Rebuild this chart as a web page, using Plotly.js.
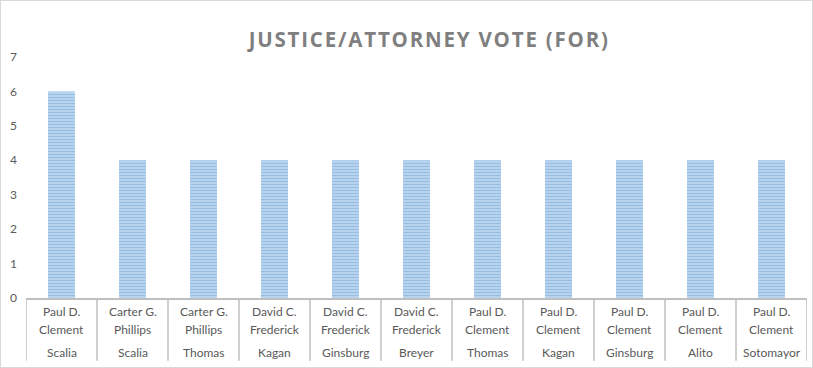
<!DOCTYPE html>
<html>
<head>
<meta charset="utf-8">
<script src="https://cdn.plot.ly/plotly-3.0.1.min.js"></script>
<style>
  html, body { margin: 0; padding: 0; background: #fff; }
  #chart { width: 811px; height: 366px; border: 1px solid #d9d9d9; }
  .gtitle { letter-spacing: 1.8px; }
</style>
</head>
<body>
<div id="chart"></div>
<script>
// ---- data ----
const attorneys = ["Paul D. Clement", "Carter G. Phillips", "Carter G. Phillips", "David C. Frederick",
  "David C. Frederick", "David C. Frederick", "Paul D. Clement", "Paul D. Clement",
  "Paul D. Clement", "Paul D. Clement", "Paul D. Clement"];
const justices = ["Scalia", "Scalia", "Thomas", "Kagan", "Ginsburg", "Breyer", "Thomas",
  "Kagan", "Ginsburg", "Alito", "Sotomayor"];
const votesFor = [6, 4, 4, 4, 4, 4, 4, 4, 4, 4, 4];
const yTicks = [0, 1, 2, 3, 4, 5, 6, 7];
const chartTitle = "JUSTICE/ATTORNEY VOTE (FOR)";

// ---- build ----
const idx = attorneys.map((_, i) => i);
const labelFont = { family: "Lato, 'Open Sans', sans-serif", size: 12, color: "#595959" };

const annotations = [];
const shapes = [];
const plotH = 366 - 55.5 - 69;
attorneys.forEach((name, i) => {
  const cut = name.lastIndexOf(" ");
  const l1 = name.slice(0, cut), l2 = name.slice(cut + 1);
  annotations.push({ x: i, y: 0, xref: "x", yref: "paper", text: l1, showarrow: false,
    yanchor: "middle", yshift: -13, font: labelFont });
  annotations.push({ x: i, y: 0, xref: "x", yref: "paper", text: l2, showarrow: false,
    yanchor: "middle", yshift: -31, font: labelFont });
  annotations.push({ x: i, y: 0, xref: "x", yref: "paper", text: justices[i], showarrow: false,
    yanchor: "middle", yshift: -54, font: labelFont });
});
for (let k = 0; k <= attorneys.length; k++) {
  shapes.push({ type: "line", xref: "x", yref: "paper", x0: k - 0.5, x1: k - 0.5,
    y0: 0, y1: -63 / plotH, line: { color: "#bfbfbf", width: 1.5 } });
}

const trace = {
  type: "bar",
  x: idx,
  y: votesFor,
  marker: {
    color: "#cfe1f4",
    pattern: { shape: "-", size: 3, solidity: 0.6, fgcolor: "#5b9bd5", bgcolor: "#cfe1f4", fillmode: "overlay" },
    line: { width: 0 }
  },
  hoverinfo: "skip"
};

const layout = {
  width: 811, height: 366,
  margin: { l: 25, r: 5, t: 55.5, b: 69 },
  paper_bgcolor: "#ffffff", plot_bgcolor: "#ffffff",
  title: { text: chartTitle, x: 0.528, xanchor: "center", y: 1 - 39 / 366, yanchor: "middle",
    font: { family: "'Open Sans', sans-serif", size: 20.5, color: "#7f7f7f", weight: "bold" } },
  bargap: 0.62,
  showlegend: false,
  xaxis: { range: [-0.5, attorneys.length - 0.5], showticklabels: false, showgrid: false, zeroline: false,
    showline: true, linecolor: "#bfbfbf", linewidth: 1.5, ticks: "", fixedrange: true },
  yaxis: { range: [0, 7], tickvals: yTicks, showgrid: false, zeroline: false, showline: false,
    ticks: "", ticklabelstandoff: 8, tickfont: labelFont, fixedrange: true },
  annotations: annotations,
  shapes: shapes
};

Plotly.newPlot("chart", [trace], layout, { staticPlot: true, displayModeBar: false });
</script>
</body>
</html>
